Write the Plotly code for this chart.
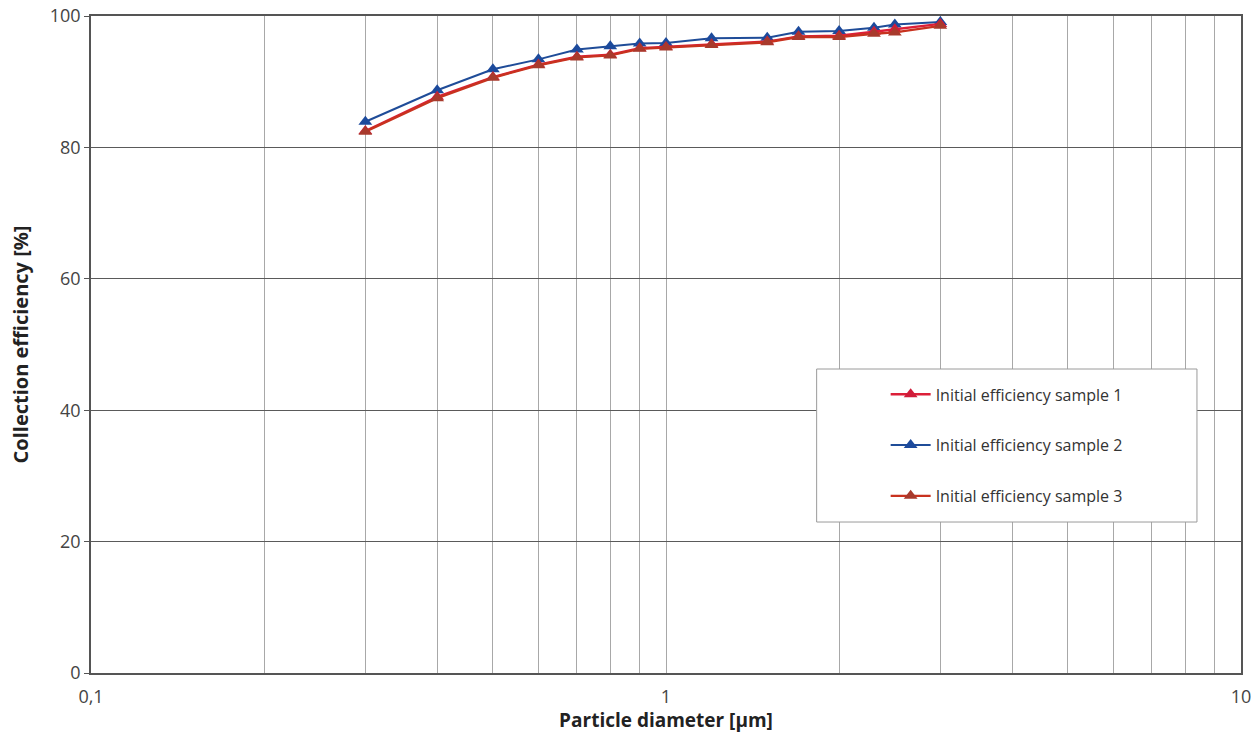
import plotly.graph_objects as go

diameter = [0.3, 0.4, 0.5, 0.6, 0.7, 0.8, 0.9, 1.0, 1.2, 1.5, 1.7, 2.0, 2.3, 2.5, 3.0]
sample1 = [82.5, 87.7, 90.7, 92.6, 93.8, 94.1, 95.1, 95.3, 95.7, 96.1, 96.9, 97.0, 97.6, 98.0, 98.8]
sample2 = [83.9, 88.7, 91.9, 93.4, 94.9, 95.4, 95.8, 95.9, 96.6, 96.7, 97.6, 97.7, 98.2, 98.7, 99.1]
sample3 = [82.4, 87.5, 90.6, 92.5, 93.7, 94.0, 95.0, 95.2, 95.6, 96.0, 96.8, 96.8, 97.3, 97.5, 98.5]
names = ["Initial efficiency sample 1", "Initial efficiency sample 2", "Initial efficiency sample 3"]

x_grid = [0.1, 0.2, 0.3, 0.4, 0.5, 0.6, 0.7, 0.8, 0.9, 1, 2, 3, 4, 5, 6, 7, 8, 9, 10]
x_labels = {0.1: "0,1", 1: "1", 10: "10"}
y_ticks = [0, 20, 40, 60, 80, 100]

FONT = "Open Sans, Noto Sans, sans-serif"

fig = go.Figure()
series = [
    (sample2, names[1], "#1f4c98", "#1c4a9c", 2.0, "g2"),
    (sample1, names[0], "#dc1f38", "#d01c3a", 2.4, "g1"),
    (sample3, names[2], "#c8321f", "#a83a2c", 2.4, "g3"),
]
for ys, nm, lc, mc, lw, grp in series:
    fig.add_trace(go.Scatter(
        x=diameter, y=ys, name=nm, mode="lines+markers",
        line=dict(color=lc, width=lw),
        marker=dict(symbol="triangle-up", size=12, color=mc),
        legendgroup=grp, legendrank={"g1": 1, "g2": 2, "g3": 3}[grp],
    ))

fig.add_shape(type="rect", xref="paper", yref="paper",
              x0=0.631, x1=0.9617, y0=0.2298, y1=0.4627,
              line=dict(color="#9a9a9a", width=1), fillcolor="white", layer="above")

fig.update_layout(
    width=1260, height=733,
    margin=dict(l=91, r=19, t=16, b=60),
    paper_bgcolor="white", plot_bgcolor="white",
    font=dict(family=FONT, size=16, color="#333333"),
    xaxis=dict(
        type="log", range=[-1, 1], automargin=False,
        tickvals=x_grid, ticktext=[x_labels.get(v, "") for v in x_grid],
        showgrid=True, gridcolor="#a8a8a8", gridwidth=1,
        showline=True, linecolor="#555555", linewidth=1.5, mirror=True,
        ticks="", zeroline=False, ticklabelstandoff=7, ticklabeloverflow="allow",
        tickfont=dict(size=18, color="#444444"),
        title=dict(text="<b>Particle diameter [µm]</b>", font=dict(size=19, color="#222222"), standoff=2),
    ),
    yaxis=dict(
        range=[0, 100], tickvals=y_ticks, automargin=False,
        showgrid=True, gridcolor="#5a5a5a", gridwidth=1,
        showline=True, linecolor="#555555", linewidth=1.5, mirror=True,
        ticks="outside", ticklen=5, tickcolor="#555555",
        zeroline=False, ticklabeloverflow="allow",
        tickfont=dict(size=18, color="#444444"),
        title=dict(text="<b>Collection efficiency [%]</b>", font=dict(size=20, color="#222222"), standoff=16),
    ),
    showlegend=True,
    legend=dict(
        x=0.691, y=0.450, xanchor="left", yanchor="top",
        bgcolor="rgba(0,0,0,0)", borderwidth=0,
        font=dict(size=16, color="#333333"),
        traceorder="grouped", tracegroupgap=27, itemwidth=40,
    ),
)

fig.write_html("out.html", config={"displayModeBar": False},
               post_script="document.body.style.margin='0';")
